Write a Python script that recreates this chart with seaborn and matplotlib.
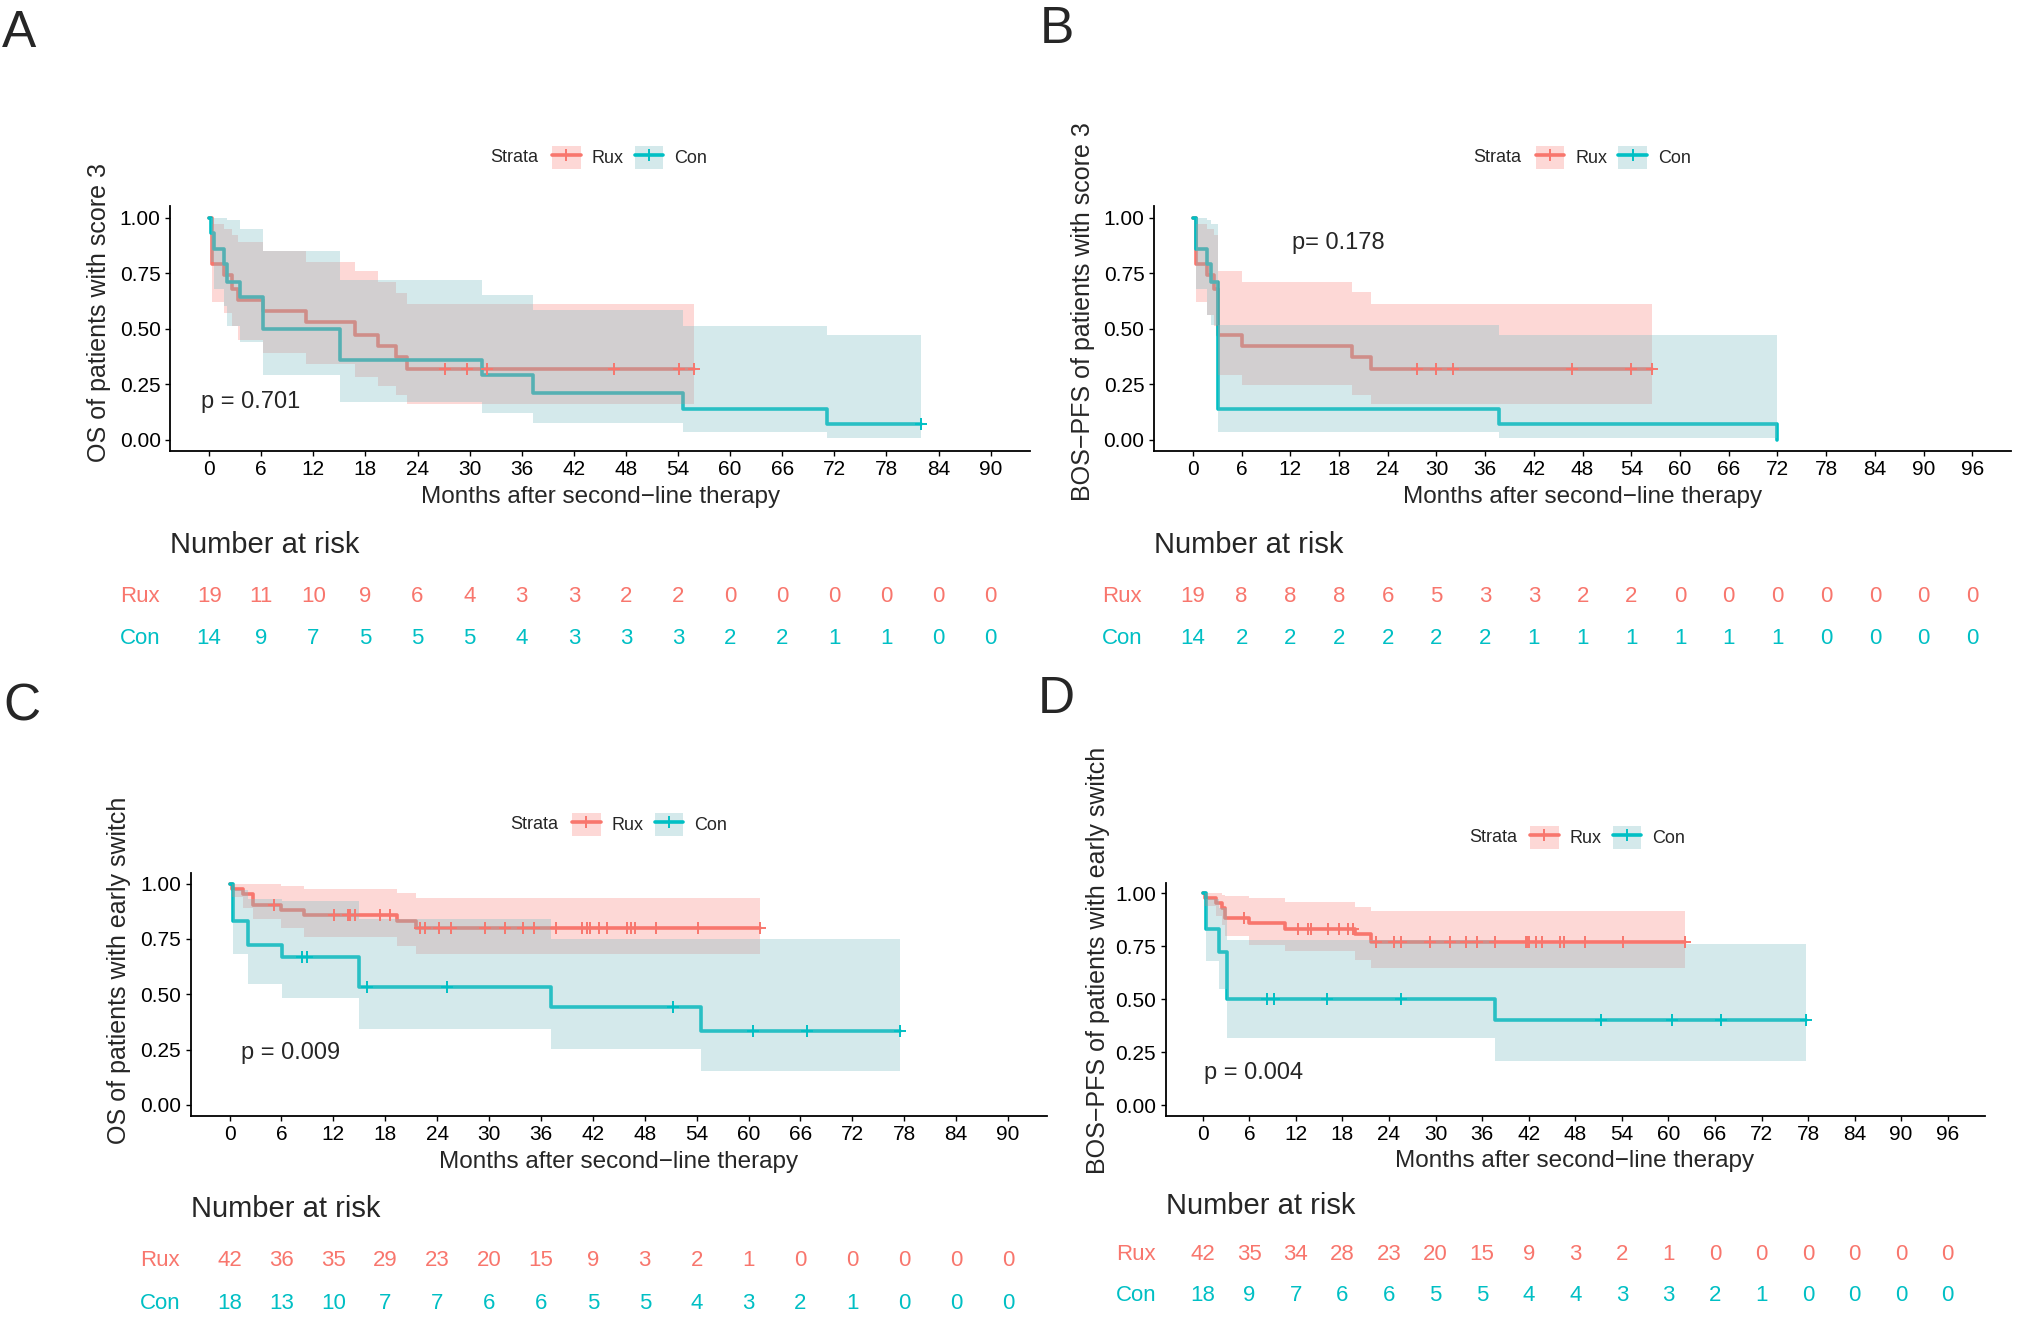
import numpy as np
import matplotlib
matplotlib.use("Agg")
import matplotlib.pyplot as plt
import seaborn as sns
from matplotlib.patches import Patch
from matplotlib.lines import Line2D

# ---- data ---------------------------------------------------------------
# panel A: OS, score 3
A_RUX_T = [0, 0.35, 1.7, 2.6, 3.3, 6.2, 11.2, 16.8, 19.4, 21.5, 22.8]
A_RUX_S = [1.00, 0.79, 0.74, 0.68, 0.63, 0.58, 0.53, 0.47, 0.42, 0.37, 0.32]
A_RUX_HI = [1.00, 0.97, 0.95, 0.92, 0.89, 0.85, 0.80, 0.76, 0.71, 0.66, 0.61]
A_RUX_LO = [1.00, 0.62, 0.57, 0.51, 0.45, 0.39, 0.34, 0.28, 0.24, 0.20, 0.16]
A_RUX_END = 55.8
A_RUX_CENS = [27.2, 29.7, 32.0, 46.6, 54.1, 55.8]

A_CON_T = [0, 0.2, 0.5, 1.7, 2.1, 3.5, 6.2, 15.1, 31.4, 37.3, 54.6, 71.1]
A_CON_S = [1.00, 0.93, 0.86, 0.79, 0.71, 0.64, 0.50, 0.36, 0.29, 0.21, 0.14, 0.07]
A_CON_HI = [1.00, 1.00, 1.00, 1.00, 0.99, 0.95, 0.85, 0.72, 0.65, 0.585, 0.51, 0.47]
A_CON_LO = [1.00, 0.80, 0.68, 0.60, 0.51, 0.44, 0.29, 0.17, 0.12, 0.075, 0.036, 0.008]
A_CON_END = 82.0
A_CON_CENS = [82.0]

A_RISK_RUX = [19, 11, 10, 9, 6, 4, 3, 3, 2, 2, 0, 0, 0, 0, 0, 0]
A_RISK_CON = [14, 9, 7, 5, 5, 5, 4, 3, 3, 3, 2, 2, 1, 1, 0, 0]

# panel B: BOS-PFS, score 3
B_RUX_T = [0, 0.4, 1.7, 2.6, 3.1, 6.0, 19.6, 21.9]
B_RUX_S = [1.00, 0.79, 0.74, 0.68, 0.47, 0.42, 0.37, 0.32]
B_RUX_HI = [1.00, 0.97, 0.95, 0.92, 0.76, 0.71, 0.665, 0.61]
B_RUX_LO = [1.00, 0.62, 0.56, 0.51, 0.29, 0.245, 0.20, 0.16]
B_RUX_END = 56.6
B_RUX_CENS = [27.6, 29.9, 32.0, 46.7, 54.0, 56.6]

B_CON_T = [0, 0.4, 1.7, 2.2, 3.1, 37.7, 72.0]
B_CON_S = [1.00, 0.86, 0.79, 0.71, 0.14, 0.07, 0.0]
B_CON_HI = [1.00, 1.00, 0.99, 0.97, 0.515, 0.47, 0.47]
B_CON_LO = [1.00, 0.68, 0.56, 0.515, 0.036, 0.008, 0.0]
B_CON_END = 72.0
B_CON_CENS = []

B_RISK_RUX = [19, 8, 8, 8, 6, 5, 3, 3, 2, 2, 0, 0, 0, 0, 0, 0, 0]
B_RISK_CON = [14, 2, 2, 2, 2, 2, 2, 1, 1, 1, 1, 1, 1, 0, 0, 0, 0]

# panel C: OS, early switch
C_RUX_T = [0, 0.3, 1.5, 2.7, 6.0, 8.6, 19.4, 21.5]
C_RUX_S = [1.00, 0.976, 0.952, 0.905, 0.881, 0.857, 0.830, 0.798]
C_RUX_HI = [1.00, 1.00, 1.00, 1.00, 0.99, 0.974, 0.958, 0.935]
C_RUX_LO = [1.00, 0.94, 0.89, 0.84, 0.80, 0.76, 0.72, 0.68]
C_RUX_END = 61.3
C_RUX_CENS = [5.1, 12.05, 13.65, 13.9, 14.5, 17.4, 18.5, 22.0, 22.6, 24.2,
              25.6, 29.5, 31.9, 33.9, 35.2, 37.7, 40.8, 41.3, 41.7, 42.7,
              43.6, 46.0, 46.4, 46.9, 49.3, 54.2, 61.3]

C_CON_T = [0, 0.35, 2.1, 6.1, 15.0, 37.2, 54.5]
C_CON_S = [1.00, 0.833, 0.722, 0.667, 0.533, 0.444, 0.333]
C_CON_HI = [1.00, 0.97, 0.93, 0.92, 0.84, 0.75, 0.75]
C_CON_LO = [1.00, 0.68, 0.545, 0.485, 0.343, 0.253, 0.152]
C_CON_END = 77.5
C_CON_CENS = [8.4, 9.0, 15.9, 25.1, 51.3, 60.5, 66.7, 77.5]

C_RISK_RUX = [42, 36, 35, 29, 23, 20, 15, 9, 3, 2, 1, 0, 0, 0, 0, 0]
C_RISK_CON = [18, 13, 10, 7, 7, 6, 6, 5, 5, 4, 3, 2, 1, 0, 0, 0]

# panel D: BOS-PFS, early switch
D_RUX_T = [0, 0.3, 1.7, 2.5, 2.9, 5.9, 10.6, 19.6, 21.7]
D_RUX_S = [1.00, 0.976, 0.952, 0.929, 0.881, 0.857, 0.833, 0.805, 0.771]
D_RUX_HI = [1.00, 1.00, 1.00, 0.99, 0.985, 0.975, 0.956, 0.934, 0.916]
D_RUX_LO = [1.00, 0.94, 0.89, 0.85, 0.80, 0.756, 0.725, 0.687, 0.647]
D_RUX_END = 62.1
D_RUX_CENS = [5.3, 12.3, 13.6, 14.0, 16.2, 17.6, 18.7, 19.4, 22.3, 24.7,
              25.5, 29.3, 31.9, 33.9, 35.3, 37.7, 41.7, 41.8, 42.1, 42.9,
              43.7, 46.0, 46.6, 49.2, 54.2, 62.1]

D_CON_T = [0, 0.4, 2.1, 3.1, 37.7]
D_CON_S = [1.00, 0.833, 0.722, 0.50, 0.40]
D_CON_HI = [1.00, 0.97, 0.93, 0.78, 0.76]
D_CON_LO = [1.00, 0.68, 0.546, 0.317, 0.21]
D_CON_END = 77.7
D_CON_CENS = [8.3, 9.2, 16.0, 25.5, 51.3, 60.5, 66.8, 77.7]

D_RISK_RUX = [42, 35, 34, 28, 23, 20, 15, 9, 3, 2, 1, 0, 0, 0, 0, 0, 0]
D_RISK_CON = [18, 9, 7, 6, 6, 5, 5, 4, 4, 3, 3, 2, 1, 0, 0, 0, 0]

GROUPS = ["Rux", "Con"]
P_TEXT = ["p = 0.701", "p= 0.178", "p = 0.009", "p = 0.004"]
Y_LABELS = ["OS of patients with score 3",
            "BOS\u2212PFS of patients with score 3",
            "OS of patients with early switch",
            "BOS\u2212PFS of patients with early switch"]
X_LABEL = "Months after second\u2212line therapy"

# ---- style ---------------------------------------------------------------
W, H = 2017, 1343
RUX_COL = "#F8766D"
CON_COL = "#00BFC4"
# band fills (the cyan band in the picture is much greyer than the line)
RUX_FILL, RUX_ALPHA = "#F8766D", 0.28
CON_FILL, CON_ALPHA = "#7DBFC5", 0.33
LW = 2.6

sns.set_style("ticks")
plt.rcParams["font.family"] = ["Liberation Sans", "DejaVu Sans"]


def fx(px):
    return px / W


def fy(py):
    return 1 - py / H


def draw_group(ax, t, s, lo, hi, end, cens, color, fill, alpha, zband):
    x = list(t) + [end]
    y = list(s) + [s[-1]]
    sns.lineplot(x=x, y=y, ax=ax, color=color, lw=LW, drawstyle="steps-post",
                 estimator=None, sort=False, zorder=2)
    ax.fill_between(x, list(lo) + [lo[-1]], list(hi) + [hi[-1]], step="post",
                    color=fill, alpha=alpha, lw=0, zorder=zband)
    if cens:
        idx = np.searchsorted(t, cens, side="right") - 1
        ax.plot(cens, np.asarray(s)[idx], ls="none", marker="+", ms=9,
                mew=1.4, color=color, zorder=5)


# layout in pixels of the reference image
panels = [
    dict(letter="A", lxy=(2, 47), box=(170.1, 206.4, 1029.7, 450.8), xmax=90,
         ylab=(99, 313), xlab=(601, 497.5), pxy=(201.4, 401.6),
         strata=(514.7, 157.5), keyx=552, nar=(170, 545), rows=(596.4, 638.6),
         rowx=140,
         rux=(A_RUX_T, A_RUX_S, A_RUX_LO, A_RUX_HI, A_RUX_END, A_RUX_CENS),
         con=(A_CON_T, A_CON_S, A_CON_LO, A_CON_HI, A_CON_END, A_CON_CENS),
         risk=(A_RISK_RUX, A_RISK_CON)),
    dict(letter="B", lxy=(1040, 43), box=(1153.9, 206.4, 2011.3, 450.8), xmax=96,
         ylab=(1083, 312), xlab=(1583, 497.5), pxy=(1292, 243.5),
         strata=(1497.4, 157.5), keyx=1535.5, nar=(1154, 545), rows=(596.4, 638.6),
         rowx=1122,
         rux=(B_RUX_T, B_RUX_S, B_RUX_LO, B_RUX_HI, B_RUX_END, B_RUX_CENS),
         con=(B_CON_T, B_CON_S, B_CON_LO, B_CON_HI, B_CON_END, B_CON_CENS),
         risk=(B_RISK_RUX, B_RISK_CON)),
    dict(letter="C", lxy=(3.5, 720), box=(190.6, 872.5, 1047, 1115.9), xmax=90,
         ylab=(119, 970), xlab=(619, 1161.8), pxy=(240.6, 1052.5),
         strata=(534, 824.4), keyx=572, nar=(190.6, 1209.4), rows=(1261, 1303.3),
         rowx=160,
         rux=(C_RUX_T, C_RUX_S, C_RUX_LO, C_RUX_HI, C_RUX_END, C_RUX_CENS),
         con=(C_CON_T, C_CON_S, C_CON_LO, C_CON_HI, C_CON_END, C_CON_CENS),
         risk=(C_RISK_RUX, C_RISK_CON)),
    dict(letter="D", lxy=(1038, 713), box=(1165.5, 882.5, 1985, 1115.9), xmax=96,
         ylab=(1098, 960), xlab=(1575, 1160.6), pxy=(1204, 1073.2),
         strata=(1493.7, 837.4), keyx=1530, nar=(1165.5, 1205.8), rows=(1254.9, 1295.5),
         rowx=1136,
         rux=(D_RUX_T, D_RUX_S, D_RUX_LO, D_RUX_HI, D_RUX_END, D_RUX_CENS),
         con=(D_CON_T, D_CON_S, D_CON_LO, D_CON_HI, D_CON_END, D_CON_CENS),
         risk=(D_RISK_RUX, D_RISK_CON)),
]

fig = plt.figure(figsize=(W / 100, H / 100), dpi=100)

for i, p in enumerate(panels):
    l, t, r, b = p["box"]
    xmax = p["xmax"]
    xlim = (-0.05 * xmax, 1.05 * xmax)
    ticks = np.arange(0, xmax + 1, 6)

    ax = fig.add_axes([fx(l), fy(b), (r - l) / W, (b - t) / H])
    draw_group(ax, *p["rux"], RUX_COL, RUX_FILL, RUX_ALPHA, 3)
    draw_group(ax, *p["con"], CON_COL, CON_FILL, CON_ALPHA, 4)
    ax.set_xlim(*xlim)
    ax.set_ylim(-0.05, 1.05)
    ax.set_xticks(ticks)
    ax.set_yticks([0, 0.25, 0.5, 0.75, 1.0])
    ax.set_yticklabels(["0.00", "0.25", "0.50", "0.75", "1.00"])
    ax.set_xlabel("")
    ax.set_ylabel("")
    for side in ["top", "right"]:
        ax.spines[side].set_visible(False)
    for side in ["left", "bottom"]:
        ax.spines[side].set_linewidth(1.3)
        ax.spines[side].set_color("black")
    ax.tick_params(axis="both", length=3.8, width=1.0, labelsize=15,
                   pad=3, colors="black", bottom=True, left=True)
    ax.text(fx(p["pxy"][0]), fy(p["pxy"][1]), P_TEXT[i], transform=fig.transFigure,
            ha="left", va="center", fontsize=17)

    # legend
    handles = [(Patch(facecolor=f, alpha=a, lw=0),
                Line2D([], [], color=c, lw=LW, marker="+", ms=9, mew=1.4))
               for c, f, a in ((RUX_COL, RUX_FILL, RUX_ALPHA),
                               (CON_COL, CON_FILL, CON_ALPHA))]
    ax.legend(handles, GROUPS, ncol=2, loc="center left",
              bbox_to_anchor=(fx(p["keyx"]), fy(p["strata"][1])),
              bbox_transform=fig.transFigure, frameon=False, borderpad=0,
              borderaxespad=0, handlelength=1.6, handleheight=1.6,
              handletextpad=0.6, columnspacing=0.6, fontsize=13)
    fig.text(fx(p["strata"][0]), fy(p["strata"][1]), "Strata",
             ha="center", va="center", fontsize=13)

    # labels
    fig.text(fx(p["ylab"][0]), fy(p["ylab"][1]), Y_LABELS[i], rotation=90,
             ha="center", va="center", fontsize=18)
    fig.text(fx(p["xlab"][0]), fy(p["xlab"][1]), X_LABEL,
             ha="center", va="center", fontsize=17.5)
    fig.text(fx(p["lxy"][0]), fy(p["lxy"][1]), p["letter"],
             ha="left", va="baseline", fontsize=37)

    # risk table
    rux_y, con_y = p["rows"]
    rt = fig.add_axes([fx(l), fy(con_y), (r - l) / W, (con_y - rux_y) / H])
    rt.set_xlim(*xlim)
    rt.set_ylim(0, 1)
    rt.axis("off")
    for tk, n in zip(ticks, p["risk"][0]):
        rt.text(tk, 1, str(n), color=RUX_COL, ha="center", va="center", fontsize=16)
    for tk, n in zip(ticks, p["risk"][1]):
        rt.text(tk, 0, str(n), color=CON_COL, ha="center", va="center", fontsize=16)
    fig.text(fx(p["rowx"]), fy(rux_y), "Rux", color=RUX_COL,
             ha="center", va="center", fontsize=16)
    fig.text(fx(p["rowx"]), fy(con_y), "Con", color=CON_COL,
             ha="center", va="center", fontsize=16)
    fig.text(fx(p["nar"][0]), fy(p["nar"][1]), "Number at risk",
             ha="left", va="center", fontsize=21)

fig.savefig("out.png", dpi=100)
